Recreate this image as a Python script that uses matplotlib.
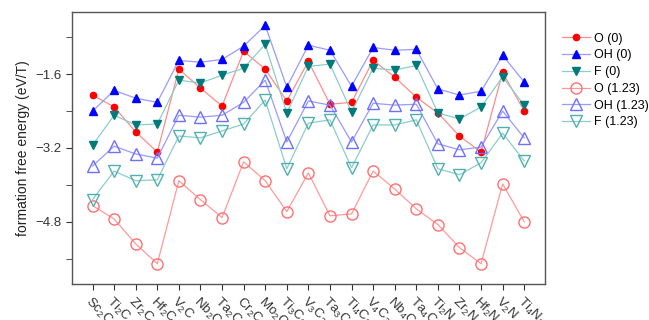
import matplotlib
matplotlib.use('Agg')
import matplotlib.pyplot as plt
import numpy as np
from matplotlib.ticker import MultipleLocator

plt.rcParams['font.family'] = ['Liberation Sans', 'DejaVu Sans']
plt.rcParams['mathtext.fontset'] = 'custom'
plt.rcParams['mathtext.rm'] = 'Liberation Sans'
plt.rcParams['mathtext.it'] = 'Liberation Sans'

materials = [r'Sc$_2$C', r'Ti$_2$C', r'Zr$_2$C', r'Hf$_2$C', r'V$_2$C', r'Nb$_2$C',
             r'Ta$_2$C', r'Cr$_2$C', r'Mo$_2$C', r'Ti$_3$C$_2$', r'V$_3$C$_2$',
             r'Ta$_3$C$_2$', r'Ti$_4$C$_3$', r'V$_4$C$_3$', r'Nb$_4$C$_3$', r'Ta$_4$C$_3$',
             r'Ti$_2$N', r'Zr$_2$N', r'Hf$_2$N', r'V$_2$N', r'Ti$_4$N$_3$']

o_0 = [-2.05, -2.31, -2.85, -3.29, -1.49, -1.90, -2.29, -1.10, -1.49, -2.18, -1.32,
       -2.25, -2.21, -1.30, -1.66, -2.10, -2.44, -2.94, -3.29, -1.56, -2.40]
oh_0 = [-2.40, -1.95, -2.12, -2.21, -1.30, -1.34, -1.28, -0.99, -0.54, -1.88, -0.97,
        -1.08, -1.86, -1.02, -1.08, -1.06, -1.92, -2.05, -1.97, -1.19, -1.77]
f_0 = [-3.14, -2.49, -2.70, -2.68, -1.73, -1.79, -1.62, -1.47, -0.95, -2.44, -1.43,
       -1.38, -2.42, -1.47, -1.51, -1.41, -2.44, -2.57, -2.31, -1.66, -2.27]
o_123 = [-4.45, -4.74, -5.28, -5.71, -3.91, -4.32, -4.71, -3.50, -3.91, -4.58, -3.74,
         -4.67, -4.63, -3.70, -4.09, -4.52, -4.86, -5.36, -5.71, -3.98, -4.80]
oh_123 = [-3.59, -3.16, -3.33, -3.42, -2.49, -2.53, -2.49, -2.21, -1.73, -3.07, -2.18,
          -2.27, -3.07, -2.23, -2.27, -2.25, -3.11, -3.24, -3.18, -2.40, -2.98]
f_123 = [-4.32, -3.70, -3.91, -3.89, -2.94, -2.98, -2.83, -2.68, -2.16, -3.65, -2.66,
         -2.59, -3.63, -2.70, -2.70, -2.59, -3.65, -3.78, -3.52, -2.88, -3.48]

x = np.arange(1, len(materials) + 1)

fig = plt.figure(figsize=(6.49, 3.2), dpi=100)
ax = fig.add_axes([0.111, 0.1125, 0.729, 0.85])

# filled markers: potential 0 V
ax.plot(x, o_0, color='#ff8c8c', lw=0.9, marker='o', ms=4.5, mfc='#ff0000', mec='#ff0000', label='O (0)')
ax.plot(x, oh_0, color='#9a9aff', lw=0.9, marker='^', ms=5.5, mfc='#0000ff', mec='#0000ff', label='OH (0)')
ax.plot(x, f_0, color='#8ccccc', lw=0.9, marker='v', ms=5.5, mfc='#007a7a', mec='#007a7a', label='F (0)')
# hollow markers: potential 1.23 V
ax.plot(x, o_123, color='#ff9a9a', lw=0.9, marker='o', ms=8, mfc='none', mec='#ff7070', mew=1, label='O (1.23)')
ax.plot(x, oh_123, color='#9a9aff', lw=0.9, marker='^', ms=9, mfc='none', mec='#7070ff', mew=1, label='OH (1.23)')
ax.plot(x, f_123, color='#8ccccc', lw=0.9, marker='v', ms=9, mfc='none', mec='#50b0b0', mew=1, label='F (1.23)')

ax.set_xlim(0.05, 21.97)
ax.set_ylim(-6.15, -0.25)
ax.set_xticks(x)
ax.set_xticklabels(materials, rotation=-45, ha='left', va='top', rotation_mode='anchor',
                   fontsize=9.5, color='#333333')
ax.yaxis.set_major_locator(MultipleLocator(1.6))
ax.yaxis.set_minor_locator(MultipleLocator(0.8))
ax.set_yticks([-1.6, -3.2, -4.8])
ax.tick_params(axis='y', labelsize=9.5, colors='#333333', direction='out', length=4)
ax.tick_params(axis='y', which='minor', direction='out', length=4, color='#333333')
ax.tick_params(axis='x', direction='out', length=4, color='#333333')
ax.set_ylabel('formation free energy (eV/T)', fontsize=10, color='#222222')

for s in ax.spines.values():
    s.set_color('#555555')
    s.set_linewidth(1)

ax.legend(loc='upper left', bbox_to_anchor=(1.01, 0.97), frameon=False, fontsize=9,
          handlelength=2.2, handletextpad=0.3, labelspacing=0.38, borderaxespad=0.6)

fig.savefig('out.png', dpi=100)
